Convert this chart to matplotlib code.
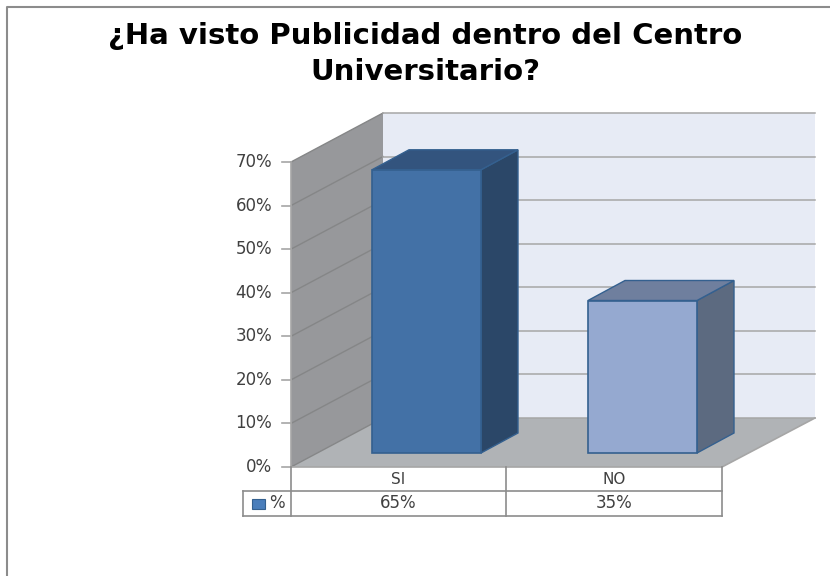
import matplotlib
matplotlib.use('Agg')
import matplotlib.pyplot as plt
from matplotlib.patches import Polygon, Rectangle

title_lines = ['¿Ha visto Publicidad dentro del Centro', 'Universitario?']
categories = ['SI', 'NO']
values = [65, 35]
value_labels = ['65%', '35%']
series_name = '%'
y_ticks = [0, 10, 20, 30, 40, 50, 60, 70]
front_colors = ['#4371a6', '#95a9d0']
top_colors = ['#33547e', '#6f7f9e']
side_colors = ['#2b4768', '#5c6a80']

# pixel layout of the fake 3d box
x0, x1 = 291, 722
y0, y70 = 467, 162
depth_x, depth_y = 92, -49
bar_lefts = [372, 588]
bar_w = 109
bar_bottom = 453
bar_dx, bar_dy = 37, -20
grid_color = '#a6a6a6'
wall_grid = '#858687'


def val_y(v):
    return y0 + (y70 - y0) * v / 70


def poly(ax, pts, color, edge='none', lw=0, z=1):
    ax.add_patch(Polygon(pts, closed=True, facecolor=color, edgecolor=edge, linewidth=lw, zorder=z))


fig = plt.figure(figsize=(8.3, 5.76), dpi=100)
ax = fig.add_axes([0, 0, 1, 1])
ax.set_xlim(0, 830)
ax.set_ylim(576, 0)
ax.axis('off')

# back wall, side wall, floor
top = val_y(70)
poly(ax, [(x0 + depth_x, y0 + depth_y), (x1 + depth_x + 1, y0 + depth_y), (x1 + depth_x + 1, top + depth_y), (x0 + depth_x, top + depth_y)], '#e7ebf5')
poly(ax, [(x0, y0), (x0 + depth_x, y0 + depth_y), (x0 + depth_x, top + depth_y), (x0, top)], '#97989b')
poly(ax, [(x0, y0), (x1, y0), (x1 + depth_x + 1, y0 + depth_y), (x0 + depth_x, y0 + depth_y)], '#b0b3b6')

# gridlines and tick labels
for t in y_ticks:
    y = val_y(t)
    ax.plot([x0, x0 + depth_x], [y, y + depth_y], color=wall_grid, lw=1, zorder=2)
    ax.plot([x0 + depth_x, x1 + depth_x + 1], [y + depth_y, y + depth_y], color=grid_color, lw=1.1, zorder=2)
    ax.plot([x0 - 9, x0], [y, y], color=grid_color, lw=1.2, zorder=2)
    ax.text(x0 - 19, y, f'{t}%', ha='right', va='center', fontsize=12, color='#404040', zorder=5)
ax.plot([x0, x0], [top, y0], color=grid_color, lw=1.2, zorder=2)
ax.plot([x0, x1, x1 + depth_x + 1], [y0, y0, y0 + depth_y], color=grid_color, lw=1.2, zorder=2)

# bars
for left, v, fc, tc, sc in zip(bar_lefts, values, front_colors, top_colors, side_colors):
    yt = bar_bottom - (y0 - val_y(v))
    right = left + bar_w
    edge = '#34608f'
    poly(ax, [(right, bar_bottom), (right + bar_dx, bar_bottom + bar_dy), (right + bar_dx, yt + bar_dy), (right, yt)], sc, edge, 1, 3)
    poly(ax, [(left, yt), (right, yt), (right + bar_dx, yt + bar_dy), (left + bar_dx, yt + bar_dy)], tc, edge, 1, 3)
    ax.add_patch(Rectangle((left, yt), bar_w, bar_bottom - yt, facecolor=fc, edgecolor=edge, linewidth=1.2, zorder=4))

# data table under the chart
row1, row2 = 491, 516
xmid = 506
legend_left = 243
table_color = '#8c8c8c'
ax.plot([x0, x0], [y0, row2], color=table_color, lw=1.2, zorder=2)
ax.plot([xmid, xmid], [y0, row2], color=table_color, lw=1.2, zorder=2)
ax.plot([x1, x1], [y0, row2], color=table_color, lw=1.2, zorder=2)
ax.plot([legend_left, x1], [row1, row1], color=table_color, lw=1.2, zorder=2)
ax.plot([legend_left, x1], [row2, row2], color=table_color, lw=1.2, zorder=2)
ax.plot([legend_left, legend_left], [row1, row2], color=table_color, lw=1.2, zorder=2)
centers = [(x0 + xmid) / 2, (xmid + x1) / 2]
for c, cat, lab in zip(centers, categories, value_labels):
    ax.text(c, (y0 + row1) / 2, cat, ha='center', va='center', fontsize=11, color='#404040')
    ax.text(c, (row1 + row2) / 2, lab, ha='center', va='center', fontsize=12, color='#404040')
ax.add_patch(Rectangle((252, 499), 13, 10, facecolor='#4a7ebb', edgecolor='#34608f', linewidth=0.8))
ax.text(277, (row1 + row2) / 2 - 1, series_name, ha='center', va='center', fontsize=12, color='#404040')

ax.text(425, 36, title_lines[0], ha='center', va='center', fontsize=21, fontweight='bold', color='black')
ax.text(425, 72, title_lines[1], ha='center', va='center', fontsize=21, fontweight='bold', color='black')

# chart frame, only left and top show in the crop
ax.plot([6.5, 6.5, 830], [576, 6.5, 6.5], color='#8c8c8c', lw=1.5)

fig.savefig('out.png', dpi=100)
